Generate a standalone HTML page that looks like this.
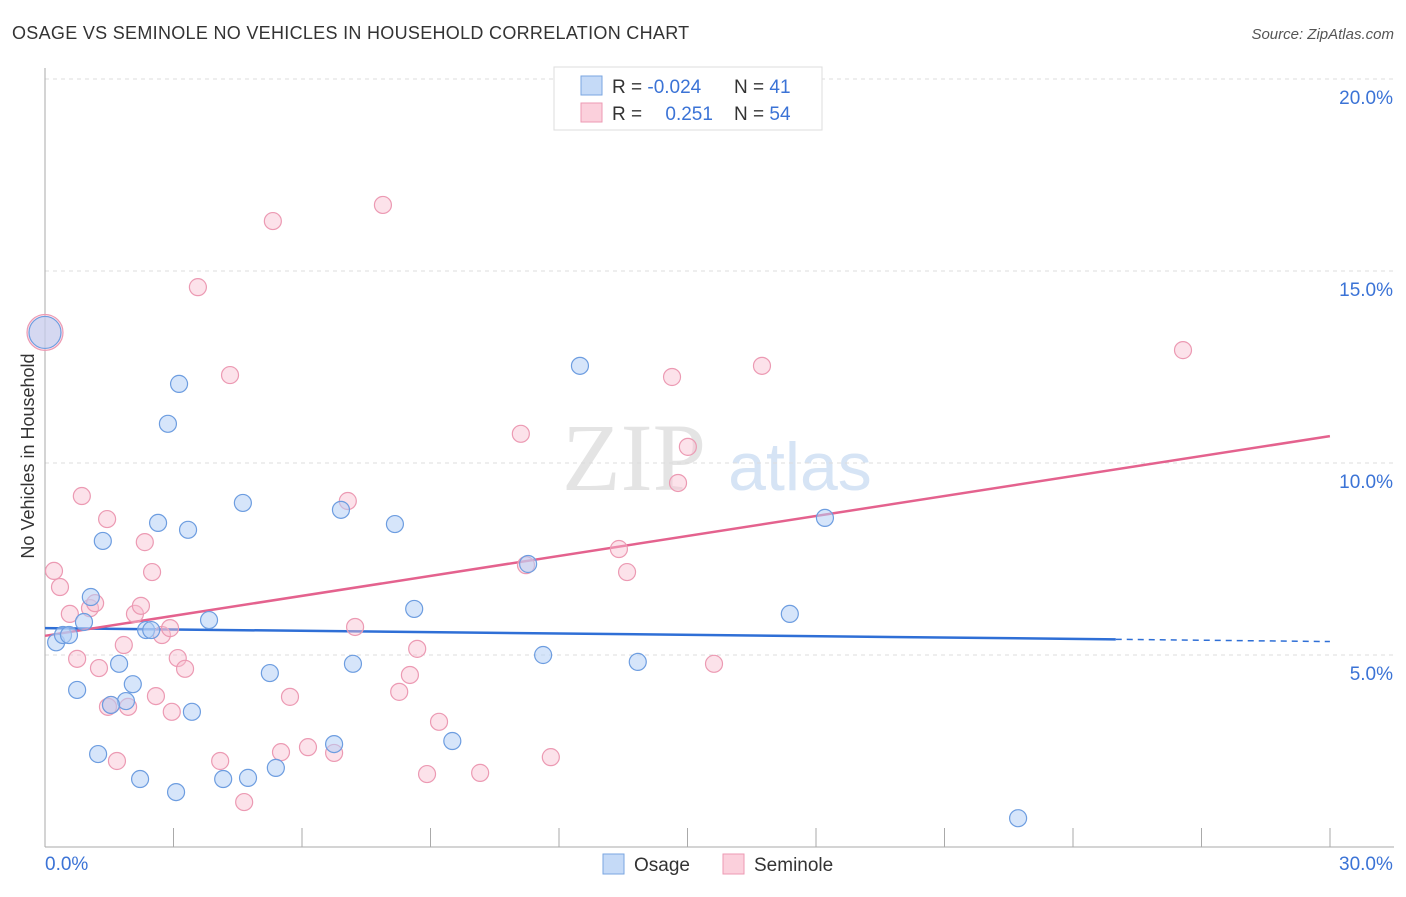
<!DOCTYPE html>
<html><head><meta charset="utf-8">
<style>
body{margin:0;background:#fff;font-family:"Liberation Sans",sans-serif}
#wrap{position:relative;width:1406px;height:892px}
</style></head>
<body>
<div id="wrap">
<svg id="svg" width="1406" height="892" xmlns="http://www.w3.org/2000/svg">
<text x="12" y="39" font-size="18" letter-spacing="0.3" fill="#333">OSAGE VS SEMINOLE NO VEHICLES IN HOUSEHOLD CORRELATION CHART</text>
<text x="1394" y="39" font-size="15" fill="#555" font-style="italic" text-anchor="end">Source: ZipAtlas.com</text>
<text x="0" y="0" transform="translate(34,456) rotate(-90)" font-size="18" fill="#333" text-anchor="middle">No Vehicles in Household</text>
<text x="634" y="490" font-size="96" fill="#e4e4e4" text-anchor="middle" font-family="Liberation Serif,serif">ZIP</text>
<text x="800" y="490" font-size="68" fill="#d6e4f5" text-anchor="middle">atlas</text>
<g id="grid"></g><g id="axes"></g><g id="lines"></g><g id="pts"></g>
<g>
<rect x="554" y="67" width="268" height="63" fill="#fff" stroke="#ddd"/>
<rect x="581" y="76" width="21" height="19" fill="#c5daf7" stroke="#7aa6e0"/>
<rect x="581" y="103" width="21" height="19" fill="#fbd0dc" stroke="#ec9ab3"/>
<text x="612" y="93" font-size="19" fill="#333">R = <tspan fill="#3b73d6">-0.024</tspan></text>
<text x="734" y="93" font-size="19" fill="#333">N = <tspan fill="#3b73d6"> 41</tspan></text>
<text x="612" y="120" font-size="19" fill="#333">R = <tspan fill="#3b73d6" dx="18">0.251</tspan></text>
<text x="734" y="120" font-size="19" fill="#333">N = <tspan fill="#3b73d6">54</tspan></text>
</g>
<g>
<rect x="603" y="854" width="21" height="20" fill="#c5daf7" stroke="#7aa6e0"/>
<text x="634" y="871" font-size="19" fill="#333">Osage</text>
<rect x="723" y="854" width="21" height="20" fill="#fbd0dc" stroke="#ec9ab3"/>
<text x="754" y="871" font-size="19" fill="#333">Seminole</text>
</g>
</svg>
</div>
<script>
const xTickVals=[0,30];
const yTickVals=[5,10,15,20];
const osageX=[0,0.26,0.42,0.56,0.75,0.91,1.07,1.24,1.35,1.73,1.89,2.05,2.22,2.36,2.48,2.64,2.87,3.06,3.13,3.34,3.43,3.83,4.16,4.62,4.74,5.25,5.39,6.75,6.91,7.19,8.17,8.62,9.51,11.28,11.63,12.49,13.84,17.39,18.21,22.72,1.54];
const osageY=[13.4,5.33,5.52,5.52,4.09,5.86,6.51,2.42,7.97,4.77,3.8,4.24,1.77,5.65,5.65,8.44,11.02,1.43,12.06,8.26,3.52,5.91,1.77,8.96,1.8,4.53,2.06,2.68,8.78,4.77,8.41,6.2,2.76,7.37,5.0,12.53,4.82,6.07,8.57,0.75,3.7];
const semX=[0,0.21,0.35,0.58,0.75,0.86,1.05,1.17,1.26,1.45,1.54,1.68,1.84,1.94,2.1,2.24,2.33,2.5,2.59,2.73,2.92,2.96,3.1,3.27,3.57,4.09,4.32,4.65,5.32,5.51,5.72,6.14,6.75,7.07,7.24,7.89,8.27,8.52,8.69,8.92,9.2,10.16,11.11,11.23,11.81,13.4,13.59,14.64,14.78,15.01,15.62,16.74,26.57,1.47];
const semY=[13.4,7.19,6.77,6.07,4.9,9.14,6.22,6.35,4.66,8.54,3.7,2.24,5.26,3.65,6.07,6.28,7.94,7.16,3.93,5.52,5.7,3.52,4.92,4.64,14.58,2.24,12.29,1.17,16.3,2.47,3.91,2.6,2.45,9.01,5.73,16.72,4.04,4.48,5.16,1.9,3.26,1.93,10.76,7.34,2.34,7.76,7.16,12.24,9.48,10.42,4.77,12.53,12.94,3.65];
const xTickLabels=["0.0%","30.0%"];
const yTickLabels=["5.0%","10.0%","15.0%","20.0%"];
const blueFit=[5.7,5.35];const pinkFit=[5.5,10.7];
const X=v=>45+v*42.83, Y=v=>847-v*38.4;
const NS="http://www.w3.org/2000/svg";
function mk(tag,attrs,parent){const e=document.createElementNS(NS,tag);for(const k in attrs)e.setAttribute(k,attrs[k]);document.getElementById(parent).appendChild(e);return e;}
yTickVals.forEach((v,i)=>{
 const l=mk('line',{x1:45,x2:1394,y1:Y(v),y2:Y(v),stroke:'#ddd','stroke-dasharray':'4,4'},'grid');
 
 
 const t=mk('text',{x:1393,y:Y(v)+25,'font-size':19,fill:'#3b73d6','text-anchor':'end'},'grid');t.textContent=yTickLabels[i];
 
 
});
const ax=mk('line',{x1:45,x2:45,y1:68,y2:847,stroke:'#aaa'},'axes');


const bx=mk('line',{x1:45,x2:1394,y1:847,y2:847,stroke:'#aaa'},'axes');


for(let i=1;i<=10;i++){const xx=45+i*128.5;const t=mk('line',{x1:xx,x2:xx,y1:828,y2:847,stroke:'#aaa'},'axes');
 
 }
xTickVals.forEach((v,i)=>{const t=mk('text',{x:i?X(v)+63:X(v),y:870,'font-size':19,fill:'#3b73d6','text-anchor':i?'end':'start'},'axes');t.textContent=xTickLabels[i];
 
 });
const bl=mk('line',{x1:X(0),y1:Y(blueFit[0]),x2:X(25),y2:Y(blueFit[0]+(blueFit[1]-blueFit[0])*25/30),stroke:'#2f6fd6','stroke-width':2.5},'lines');


const bd=mk('line',{x1:X(25),y1:Y(blueFit[0]+(blueFit[1]-blueFit[0])*25/30),x2:X(30),y2:Y(blueFit[1]),stroke:'#2f6fd6','stroke-width':1.5,'stroke-dasharray':'6,5'},'lines');


const pl=mk('line',{x1:X(0),y1:Y(pinkFit[0]),x2:X(30),y2:Y(pinkFit[1]),stroke:'#e4628e','stroke-width':2.5},'lines');


semX.forEach((x,i)=>{const c=mk('circle',{cx:X(x),cy:Y(semY[i]),r:i?8.5:18,fill:'rgba(248,190,208,0.45)',stroke:'#ec9ab3','stroke-width':1.2},'pts');
 
 });
osageX.forEach((x,i)=>{const c=mk('circle',{cx:X(x),cy:Y(osageY[i]),r:i?8.5:16,fill:'rgba(180,207,245,0.55)',stroke:'#6d9de0','stroke-width':1.2},'pts');
 
 });
</script>
</body></html>
